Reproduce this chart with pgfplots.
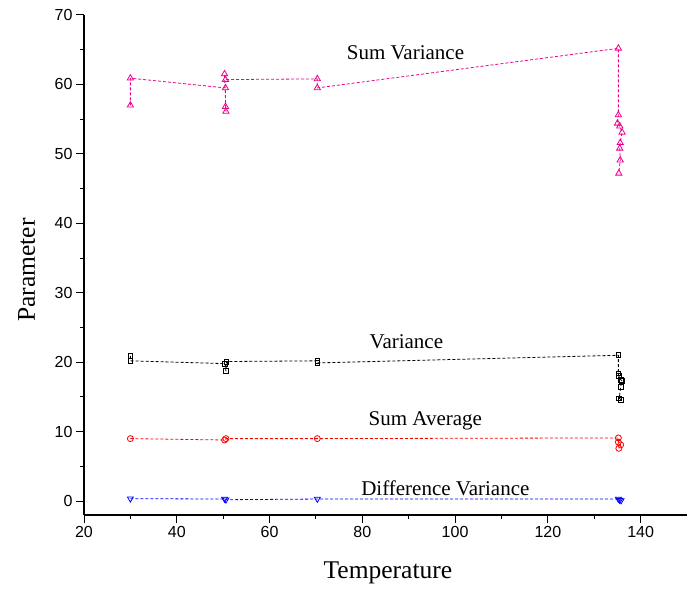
\documentclass[border=0pt]{standalone}
\usepackage{fontspec}
\setmainfont{Liberation Serif}
\newfontfamily\tickfont{Liberation Sans}
\usepackage{pgfplots}
\pgfplotsset{compat=1.18}

\begin{document}
\begin{tikzpicture}
\begin{axis}[
    scale only axis,
    width=603pt,
    height=500pt,
    xmin=20, xmax=150,
    ymin=-2, ymax=70,
    axis x line=bottom,
    axis y line=left,
    axis line style={-, line width=1.2pt},
    xtick={20,40,...,140},
    ytick={0,10,...,70},
    minor x tick num=1,
    minor y tick num=1,
    tick align=outside,
    major tick length=8pt,
    minor tick length=4pt,
    tick style={line width=1pt, black},
    /pgf/number format/assume math mode=true,
    tick label style={font=\tickfont\fontsize{16}{18}\selectfont},
    xlabel={Temperature},
    ylabel={Parameter},
    label style={font=\fontsize{25.5}{30}\selectfont},
    xlabel style={at={(axis description cs:0.504,-0.116)}, anchor=center},
    ylabel style={at={(axis description cs:-0.095,0.49)}, anchor=center},
    clip=false,
]

% Sum Variance
\addplot[color=magenta, densely dashed, line width=0.8pt, mark=triangle,
  mark size=3.6pt, mark options={solid}] coordinates {
  (30,57.0)(30,60.9)(50.5,59.5)(50.5,56.8)(50.6,56.1)(50.3,61.5)(50.5,60.7)
  (70.3,60.8)(70.3,59.5)(135.2,65.2)(135.2,55.6)(135.0,54.4)(135.5,54.0)
  (136.0,53.1)(135.6,51.6)(135.5,50.8)(135.6,49.1)(135.3,47.2)
};

% Variance
\addplot[color=black, densely dashed, line width=0.8pt, mark=square,
  mark size=2.4pt, mark options={solid}] coordinates {
  (30,20.9)(30,20.2)(50.4,19.8)(50.6,18.7)(50.7,20.1)(70.3,20.2)(70.3,19.9)
  (135.2,21.0)(135.2,18.4)(135.3,18.0)(135.7,17.5)(136.0,17.3)(135.7,16.5)
  (135.4,14.8)(135.8,14.6)
};

% Sum Average
\addplot[color=red, densely dashed, line width=0.8pt, mark=o,
  mark size=3pt, mark options={solid}] coordinates {
  (30,9.0)(50.3,8.8)(50.6,9.0)(70.3,9.0)(135.2,9.1)(135.2,8.5)(135.7,8.1)
  (135.3,7.6)
};

% Difference Variance
\addplot[color=blue, densely dashed, line width=0.8pt, mark=triangle,
  mark size=3.4pt, mark options={solid, rotate=180}] coordinates {
  (30,0.35)(50.3,0.3)(50.6,0.2)(70.3,0.3)(135.2,0.3)(135.5,0.15)(135.8,0.1)
};

\node[font=\fontsize{21}{25}\selectfont] at (axis cs:89.3,64.6) {Sum Variance};
\node[font=\fontsize{21}{25}\selectfont] at (axis cs:89.5,22.9) {Variance};
\node[font=\fontsize{21}{25}\selectfont] at (axis cs:93.6,11.5) {Sum Average};
\node[font=\fontsize{21}{25}\selectfont] at (axis cs:97.9,1.9) {Difference Variance};

\coordinate (bl) at ([xshift=-84pt,yshift=-77pt]rel axis cs:0,0);
\coordinate (tr) at ([yshift=15pt]rel axis cs:1,1);
\end{axis}
\pgfresetboundingbox
\useasboundingbox (bl) rectangle (tr);
\end{tikzpicture}
\end{document}
